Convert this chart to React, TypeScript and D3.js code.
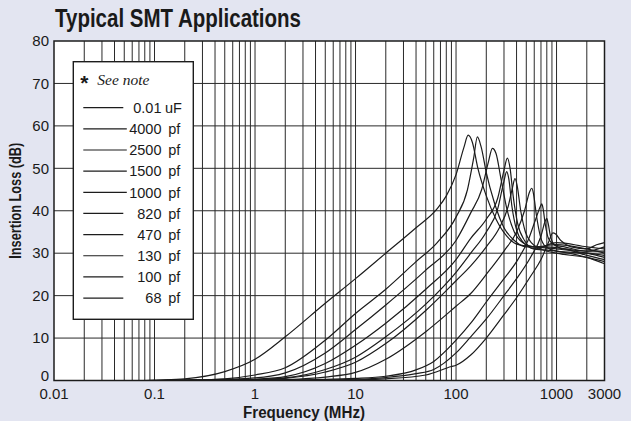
import React, { useEffect } from "react";
import * as d3 from "d3";

// legend entries (top to bottom)
const legendValues = ["0.01", "4000", "2500", "1500", "1000", "820", "470", "130", "100", "68"];
const legendUnits = ["uF", "pf", "pf", "pf", "pf", "pf", "pf", "pf", "pf", "pf"];

const yTicks = [0, 10, 20, 30, 40, 50, 60, 70, 80];
const xTickValues = [0.01, 0.1, 1, 10, 100, 1000, 3000];
const xTickLabels = ["0.01", "0.1", "1", "10", "100", "1000", "3000"];

// [frequency MHz, insertion loss dB]
const c0_01uF: [number, number][] = [
  [0.08, 0], [0.1, 0.1], [0.2, 0.4], [0.5, 2.1], [1, 5], [2, 10.3], [5, 18.2], [10, 24], [20, 30],
  [40, 36], [65, 40.5], [80, 43.5], [100, 48.5], [120, 55], [132, 57.8], [145, 56.2], [165, 50],
  [200, 43.5], [250, 38], [320, 34], [420, 32], [600, 31.5], [1000, 31], [2000, 30], [3000, 29],
];
const c4000pf: [number, number][] = [
  [0.1, 0], [0.2, 0.1], [0.5, 0.4], [1, 1.3], [2, 3], [5, 9.5], [10, 15.8], [20, 21.5], [40, 28],
  [65, 32.5], [100, 38.5], [130, 45], [150, 52.5], [163, 57.4], [178, 55], [200, 49], [240, 42],
  [300, 36], [380, 33], [500, 31.5], [800, 31.5], [1200, 31], [2000, 29.5], [3000, 28.5],
];
const c2500pf: [number, number][] = [
  [0.1, 0], [0.3, 0.1], [1, 0.6], [2, 1.8], [5, 6.5], [10, 12], [20, 17.8], [50, 26], [100, 33],
  [140, 39.5], [180, 45], [210, 51.5], [230, 54.7], [250, 53.5], [280, 47.5], [320, 40.5],
  [380, 35], [460, 32.5], [600, 31.5], [1000, 32], [2000, 31], [3000, 30],
];
const c1500pf: [number, number][] = [
  [0.1, 0], [0.5, 0.1], [1, 0.3], [2, 0.9], [5, 4], [10, 8.3], [20, 13.5], [50, 21.5], [100, 28.5],
  [140, 33.5], [200, 38], [260, 43], [300, 49.5], [324, 52.4], [345, 50], [370, 43.5], [410, 37],
  [480, 33], [600, 31], [1000, 32.5], [2000, 31.5], [3000, 31],
];
const c1000pf: [number, number][] = [
  [0.1, 0], [1, 0.2], [2, 0.6], [5, 2.6], [10, 5.5], [20, 10.3], [50, 18], [100, 25.5], [140, 30],
  [200, 35], [260, 40.5], [300, 47], [319, 49.2], [335, 47.5], [360, 41], [400, 35.5], [470, 32.5],
  [600, 31], [1000, 30.5], [2000, 29], [3000, 27.5],
];
const c820pf: [number, number][] = [
  [0.1, 0], [1, 0.15], [2, 0.5], [5, 2], [10, 4.3], [20, 8.7], [50, 16.5], [100, 23.5], [140, 27],
  [200, 31.5], [270, 36], [330, 41], [365, 45.5], [386, 47.6], [405, 46], [440, 40], [490, 35],
  [560, 32.5], [700, 31], [1000, 30], [2000, 29], [3000, 28],
];
const c470pf: [number, number][] = [
  [0.2, 0], [1, 0.05], [2, 0.2], [5, 0.8], [10, 1.9], [20, 5], [50, 11.5], [100, 17.5], [140, 20.5],
  [200, 25], [300, 30.5], [400, 35], [480, 40], [540, 44.5], [566, 45.3], [590, 44], [630, 39],
  [690, 34], [780, 31.5], [1000, 30.5], [2000, 30], [3000, 29.5],
];
const c130pf: [number, number][] = [
  [0.3, 0], [2, 0.1], [10, 0.5], [20, 1], [40, 2.5], [60, 4.5], [100, 9.5], [140, 13.5], [200, 18.5],
  [300, 24], [400, 28], [520, 33], [620, 38], [690, 41], [713, 41.6], [735, 40.5], [770, 37],
  [830, 33.5], [950, 32], [1200, 31.5], [2000, 30.5], [3000, 30.5],
];
const c100pf: [number, number][] = [
  [0.3, 0], [2, 0.05], [10, 0.3], [20, 0.7], [40, 1.6], [60, 2.6], [100, 6.5], [140, 10.3],
  [200, 14.5], [300, 20], [400, 24], [550, 29], [700, 34], [770, 37.5], [799, 38.2], [825, 37],
  [870, 34], [950, 32], [1200, 31], [2000, 30.5], [3000, 31.5],
];
const c68pf: [number, number][] = [
  [0.3, 0], [10, 0.15], [20, 0.4], [50, 1.3], [90, 3.3], [100, 3.6], [140, 6], [200, 10], [300, 15.5],
  [400, 19.5], [550, 24.5], [700, 28.5], [830, 32.5], [920, 34.8], [980, 34.5], [1100, 33],
  [1400, 31.5], [2000, 31], [2500, 32], [3000, 32.5],
];

const series = [c0_01uF, c4000pf, c2500pf, c1500pf, c1000pf, c820pf, c470pf, c130pf, c100pf, c68pf];

const W = 631;
const H = 421;
const margin = { top: 41, right: 26.5, bottom: 40.5, left: 54 };
const innerW = W - margin.left - margin.right;
const innerH = H - margin.top - margin.bottom;

export default function App() {
  useEffect(() => {
    document.body.style.margin = "0";
  }, []);

  const x = d3.scaleLog().domain([0.01, 3000]).range([0, innerW]);
  const y = d3.scaleLinear().domain([0, 80]).range([innerH, 0]);

  // minor gridlines at 1..9 x each decade
  const gridX: number[] = [];
  for (let e = -2; e <= 3; e++) {
    for (let m = 1; m <= 9; m++) {
      const v = m * Math.pow(10, e);
      if (v > 0.01 && v < 3000) gridX.push(v);
    }
  }

  const line = d3
    .line<[number, number]>()
    .x((d) => x(d[0]))
    .y((d) => y(d[1]))
    .curve(d3.curveMonotoneX);

  const ink = "#1c1c1c";
  const sans = "'Liberation Sans', Arial, Helvetica, sans-serif";

  // legend box, relative to the plot area
  const lg = { x: 19.3, y: 20.7, w: 120, h: 257.6, row0: 46, step: 21.15 };

  return (
    <svg width={W} height={H} style={{ display: "block", background: "#e3e5f1" }} fontFamily={sans}>
      <text x={55} y={26.5} fontSize={25} fontWeight="bold" fill="#1a1a1a" textLength={246} lengthAdjust="spacingAndGlyphs">
        Typical SMT Applications
      </text>
      <g transform={`translate(${margin.left},${margin.top})`}>
        <rect x={0} y={0} width={innerW} height={innerH} fill="#fff" />
        <defs>
          <clipPath id="plotClip">
            <rect x={0} y={0} width={innerW} height={innerH} />
          </clipPath>
        </defs>
        {gridX.map((v) => (
          <line key={`gx${v}`} x1={x(v)} x2={x(v)} y1={0} y2={innerH} stroke="#2a2a2a" strokeWidth={1} />
        ))}
        {yTicks.slice(1, -1).map((v) => (
          <line key={`gy${v}`} x1={0} x2={innerW} y1={y(v)} y2={y(v)} stroke="#2a2a2a" strokeWidth={1} />
        ))}
        <g clipPath="url(#plotClip)">
          {series.map((s, i) => (
            <path key={i} d={line(s) || ""} fill="none" stroke={ink} strokeWidth={1.2} />
          ))}
        </g>
        <rect x={0} y={0} width={innerW} height={innerH} fill="none" stroke={ink} strokeWidth={1.5} />

        {yTicks.map((v) => (
          <text key={`yt${v}`} x={-5} y={y(v) - (v === 0 ? 4.5 : 0)} dy="0.35em" textAnchor="end" fontSize={15} fill="#1a1a1a">
            {v}
          </text>
        ))}
        {xTickValues.map((v, i) => (
          <text key={`xt${v}`} x={x(v)} y={innerH + 18} textAnchor="middle" fontSize={15} fill="#1a1a1a">
            {xTickLabels[i]}
          </text>
        ))}
        <text x={250} y={innerH + 37} textAnchor="middle" fontSize={16} fontWeight="bold" fill="#1a1a1a" textLength={122} lengthAdjust="spacingAndGlyphs">
          Frequency (MHz)
        </text>
        <text
          transform={`translate(${-33},${innerH / 2 - 10}) rotate(-90)`}
          textAnchor="middle"
          fontSize={16}
          fontWeight="bold"
          fill="#1a1a1a"
          textLength={116}
          lengthAdjust="spacingAndGlyphs"
        >
          Insertion Loss (dB)
        </text>

        {/* legend */}
        <g transform={`translate(${lg.x},${lg.y})`}>
          <rect x={0} y={0} width={lg.w} height={lg.h} fill="#fff" stroke={ink} strokeWidth={1.4} />
          <text x={7} y={28} fontSize={21} fontWeight="bold" fill="#1a1a1a">*</text>
          <text x={24} y={23} fontSize={15.5} fontStyle="italic" fontFamily="'Liberation Serif', 'Times New Roman', serif" fill="#1a1a1a">
            See note
          </text>
          {legendValues.map((v, i) => (
            <g key={v} transform={`translate(0,${lg.row0 + i * lg.step})`}>
              <line x1={10} x2={v.length === 4 && v !== "0.01" ? 53.5 : 50} y1={0} y2={0} stroke={ink} strokeWidth={1.2} />
              <text x={88.2} y={5.2} textAnchor="end" fontSize={14.5} fill="#1a1a1a">{v}</text>
              <text x={v === "0.01" ? 91.7 : 95} y={5.2} fontSize={14.5} fill="#1a1a1a">{legendUnits[i]}</text>
            </g>
          ))}
        </g>
      </g>
    </svg>
  );
}
